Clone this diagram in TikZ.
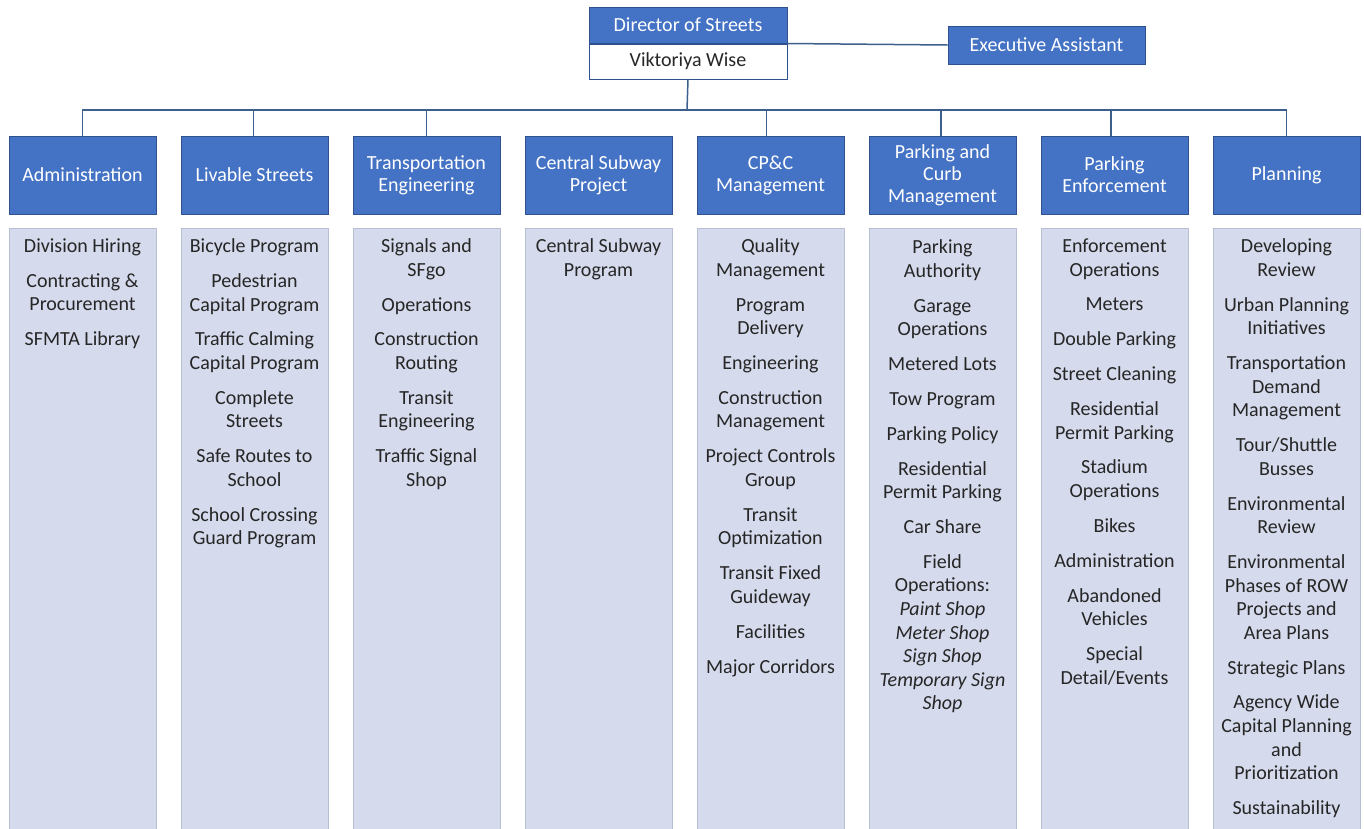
\documentclass[tikz,border=0pt]{standalone}
\usepackage{fontspec}
\setmainfont{Carlito}
\usetikzlibrary{positioning,calc}
\definecolor{headblue}{HTML}{4472C4}
\definecolor{headedge}{HTML}{2F528F}
\definecolor{bodyfill}{HTML}{D5DAEC}
\definecolor{bodyedge}{HTML}{B8BFD3}
\definecolor{linkblue}{HTML}{3D5F8C}
\definecolor{itemtext}{HTML}{262626}
\newcommand{\gap}{\\[11.25pt]}

\begin{document}
\begin{tikzpicture}
    [   x = 1pt
    ,   y = -1pt
    ,   head/.style=
        {   draw = headedge
        ,   fill = headblue
        ,   line width = 1pt
        ,   minimum width = 147pt
        ,   minimum height = 78pt
        ,   inner sep = 0pt
        ,   align = center
        ,   text = white
        ,   font = \fontsize{20}{22}\selectfont
        }
    ,   namebox/.style=
        {   draw = headedge
        ,   fill = white
        ,   line width = 1pt
        ,   minimum width = 198pt
        ,   minimum height = 35pt
        ,   inner sep = 0pt
        ,   text = itemtext
        ,   font = \fontsize{20}{22}\selectfont
        }
    ,   column/.style=
        {   draw = bodyedge
        ,   fill = bodyfill
        ,   line width = 1pt
        ,   minimum width = 147pt
        ,   minimum height = 602pt
        }
    ,   items/.style=
        {   align = center
        ,   inner sep = 0pt
        ,   text = itemtext
        ,   font = \fontsize{20}{23.6}\selectfont
        }
    ,   link/.style = {draw = linkblue, line width = 1.5pt}
    ]
    \useasboundingbox (0,0) rectangle (1364,828);

    % top of the chart
    \node[head, minimum width=198pt, minimum height=36pt] (dir) at (688,25) {Director of Streets};
    \node[namebox, below=0pt of dir] (name) {Viktoriya Wise};
    \node[head, minimum width=197pt, minimum height=38pt] (ea) at (1046.5,45) {Executive Assistant};

    % division headers
    \node[head] (h1) at (82.5,175)  {Administration};
    \node[head] (h2) at (254.5,175) {Livable Streets};
    \node[head] (h3) at (426.5,175) {Transportation\\Engineering};
    \node[head] (h4) at (598.5,175) {Central Subway\\Project};
    \node[head] (h5) at (770.5,175) {CP\&C\\Management};
    \node[head] (h6) at (942.5,175) {Parking and\\Curb\\Management};
    \node[head] (h7) at (1114.5,175) {Parking\\Enforcement};
    \node[head] (h8) at (1286.5,175) {Planning};

    % connectors
    \coordinate (bus) at (687,110);
    \draw[link] (dir.south east) -- (ea.west);
    \draw[link] (name.south) -- (bus);
    \draw[link] (h1.north) |- (bus) -| (h8.north);
    \foreach \n/\dx in {2/-1,3/0,5/-4,6/-1.5,7/-3.5}
        \draw[link] ([xshift=\dx pt]h\n.north) -- ([xshift=\dx pt]h\n.north |- bus);

    % sections under each header
    \foreach \n/\x in {1/82.5,2/254.5,3/426.5,4/598.5,5/770.5,6/942.5,7/1114.5,8/1286.5}
        \node[column] (b\n) at (\x,529) {};

    \node[items, below=11pt of b1.north] (t1)
        {Division Hiring\gap
         Contracting \&\\Procurement\gap
         SFMTA Library};
    \node[items, below=11pt of b2.north] (t2)
        {Bicycle Program\gap
         Pedestrian\\Capital Program\gap
         Traffic Calming\\Capital Program\gap
         Complete\\Streets\gap
         Safe Routes to\\School\gap
         School Crossing\\Guard Program};
    \node[items, below=11pt of b3.north] (t3)
        {Signals and\\SFgo\gap
         Operations\gap
         Construction\\Routing\gap
         Transit\\Engineering\gap
         Traffic Signal\\Shop};
    \node[items, below=11pt of b4.north] (t4)
        {Central Subway\\Program};
    \node[items, below=11pt of b5.north] (t5)
        {Quality\\Management\gap
         Program\\Delivery\gap
         Engineering\gap
         Construction\\Management\gap
         Project Controls\\Group\gap
         Transit\\Optimization\gap
         Transit Fixed\\Guideway\gap
         Facilities\gap
         Major Corridors};
    \node[items, below=12pt of b6.north] (t6)
        {Parking\\Authority\gap
         Garage\\Operations\gap
         Metered Lots\gap
         Tow Program\gap
         Parking Policy\gap
         Residential\\Permit Parking\gap
         Car Share\gap
         Field\\Operations:\\\textit{Paint Shop}\\\textit{Meter Shop}\\\textit{Sign Shop}\\
         \textit{Temporary Sign}\\\textit{Shop}};
    \node[items, below=11pt of b7.north] (t7)
        {Enforcement\\Operations\gap
         Meters\gap
         Double Parking\gap
         Street Cleaning\gap
         Residential\\Permit Parking\gap
         Stadium\\Operations\gap
         Bikes\gap
         Administration\gap
         Abandoned\\Vehicles\gap
         Special\\Detail/Events};
    \node[items, below=11pt of b8.north] (t8)
        {Developing\\Review\gap
         Urban Planning\\Initiatives\gap
         Transportation\\Demand\\Management\gap
         Tour/Shuttle\\Busses\gap
         Environmental\\Review\gap
         Environmental\\Phases of ROW\\Projects and\\Area Plans\gap
         Strategic Plans\gap
         Agency Wide\\Capital Planning\\and\\Prioritization\gap
         Sustainability};
\end{tikzpicture}
\end{document}
